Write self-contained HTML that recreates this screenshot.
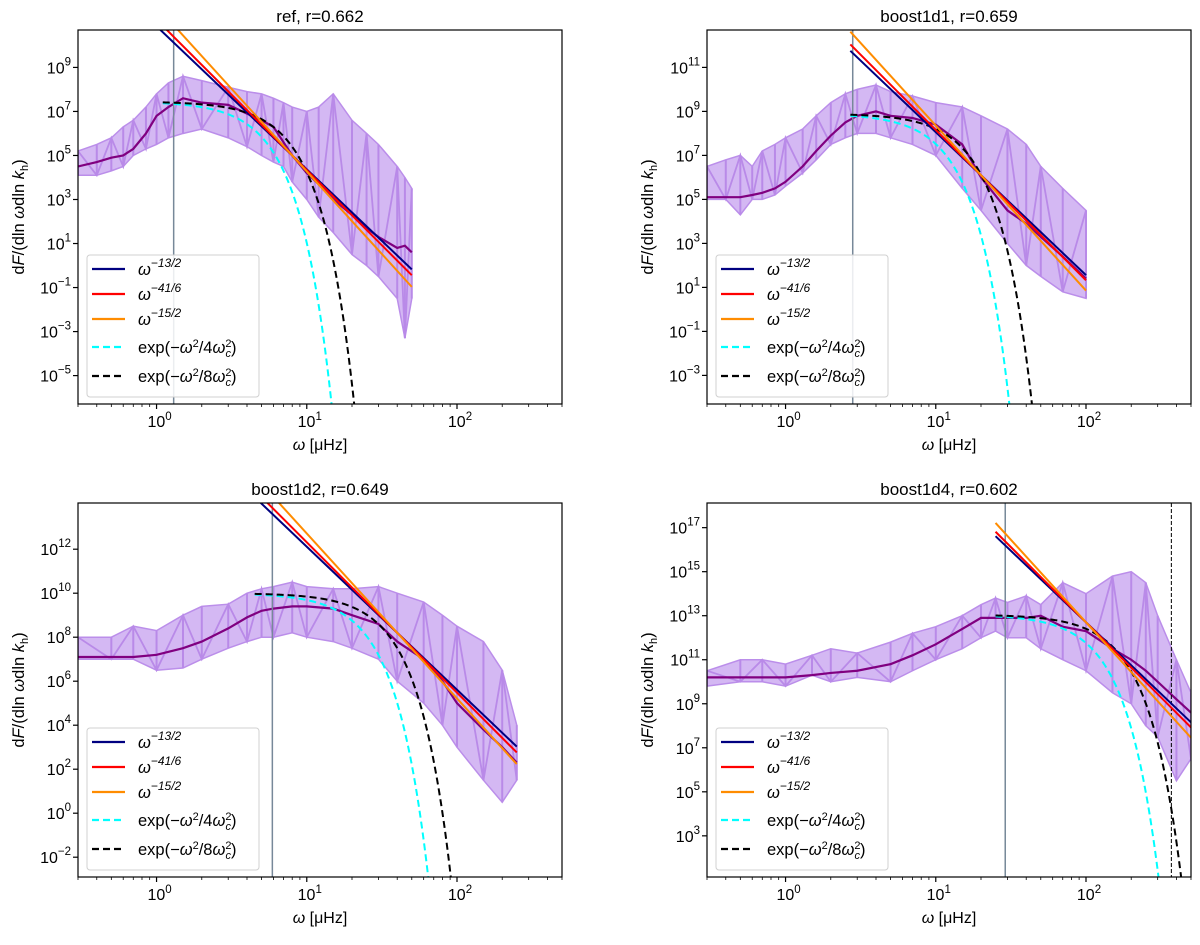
<!DOCTYPE html>
<html><head><meta charset="utf-8"><style>
html,body{margin:0;padding:0;background:#fff;}
svg{display:block;font-family:"Liberation Sans","DejaVu Sans",sans-serif;}
</style></head><body>
<svg id="fig" width="1200" height="945" viewBox="0 0 1200 945" xmlns="http://www.w3.org/2000/svg"></svg>
<script>
// ---- data (log10 values) ----
const titles = ["ref, r=0.662","boost1d1, r=0.659","boost1d2, r=0.649","boost1d4, r=0.602"];
const yLims = [[-6.29,10.70],[-4.3,12.7],[-2.9,14.1],[1.13,18.12]];
const yTickExps = [[-5,-3,-1,1,3,5,7,9],[-3,-1,1,3,5,7,9,11],[-2,0,2,4,6,8,10,12],[3,5,7,9,11,13,15,17]];
const xTickExps = [0,1,2];
const omegaC = [1.3,2.8,5.9,29];
const plateauLog = [7.45,8.9,10.0,13.05];
const plateauStart = [1.1,2.7,4.5,25];
const lawAnchorW = [8,20,40,100];
const lawAnchorLog = [5.0,6.1,8.2,12.7];
const lawStart = [1.0,2.7,4.0,25];
const lawEnd = [50,100,250,500];
const slopes = [6.5,41/6,7.5];

const nodes1 = [0.3,0.4,0.5,0.6,0.7,0.85,1,1.2,1.5,2,3,4,5,6,7,8,10,12,15,20,25,30,40,45,50];
const dark1  = [4.5,4.7,4.9,5.0,5.3,6.0,6.8,7.2,7.6,7.4,7.3,6.9,6.6,6.3,5.6,5.0,4.2,3.7,3.0,2.3,1.7,1.3,0.8,0.9,0.6];
const upper1 = [5.2,5.5,5.8,6.3,6.6,7.2,7.8,8.3,8.6,8.4,8.1,7.9,7.8,7.6,7.4,7.2,7.0,7.2,7.8,6.6,6.0,5.5,4.5,4.0,3.5];
const lower1 = [4.1,4.1,4.3,4.5,5.0,5.3,5.5,5.8,6.0,6.2,5.8,5.4,5.0,4.7,4.5,3.8,3.0,2.2,1.5,0.5,0.0,-0.5,-1.5,-3.3,-1.5];

const nodes2 = [0.3,0.4,0.5,0.6,0.7,0.85,1,1.3,1.6,2,2.5,3,4,5,7,10,15,20,30,40,50,70,100];
const dark2  = [5.1,5.1,5.1,5.2,5.3,5.5,5.8,6.5,7.2,7.9,8.5,8.8,9.0,8.8,8.7,8.4,7.5,6.0,4.5,3.9,3.3,2.4,1.4];
const upper2 = [6.5,6.8,7.0,6.5,7.2,7.5,7.8,8.2,8.8,9.4,9.8,10.0,10.2,9.9,9.7,9.4,9.2,8.8,8.2,7.5,6.5,5.5,4.5];
const lower2 = [5.0,5.0,4.3,5.0,5.0,5.2,5.6,6.2,6.8,7.5,7.8,8.0,8.0,7.8,7.5,7.0,5.5,4.5,3.0,2.0,1.5,0.8,0.5];

const nodes3 = [0.3,0.5,0.7,1,1.5,2,3,4,5,6,8,10,15,20,30,40,60,80,100,150,200,250];
const dark3  = [7.1,7.1,7.1,7.2,7.5,7.8,8.4,8.9,9.2,9.3,9.4,9.4,9.3,9.0,8.6,7.8,7.0,6.0,5.0,3.8,3.0,2.3];
const upper3 = [8.0,8.0,8.5,8.3,9.0,9.4,9.5,10.0,10.2,10.3,10.5,10.3,10.2,10.2,10.3,10.0,9.6,9.0,8.5,7.8,6.5,4.0];
const lower3 = [7.0,7.0,7.0,6.5,6.6,7.0,7.5,7.8,8.0,8.0,8.2,8.0,7.8,7.5,7.0,6.0,5.0,4.0,3.0,1.5,0.5,1.5];

const nodes4 = [0.3,0.5,0.7,1,1.5,2,3,5,7,10,15,20,25,30,40,50,70,100,150,200,250,300,400,500];
const dark4  = [10.2,10.2,10.2,10.2,10.3,10.4,10.5,10.8,11.2,11.7,12.4,12.9,12.9,12.9,12.9,13.0,12.5,12.3,11.5,11.0,10.5,10.0,9.2,8.6];
const upper4 = [10.5,11.0,11.0,10.8,11.2,11.5,11.3,11.8,12.2,12.5,13.0,13.5,13.8,13.6,13.9,13.5,14.5,14.0,14.8,15.0,14.5,13.0,11.0,9.5];
const lower4 = [9.8,10.0,10.0,9.8,10.3,10.0,10.2,10.0,10.5,11.0,11.5,12.0,12.3,12.0,12.0,11.5,11.0,10.5,9.5,9.0,8.0,7.5,5.5,6.5];

const allNodes=[nodes1,nodes2,nodes3,nodes4], allDark=[dark1,dark2,dark3,dark4], allUp=[upper1,upper2,upper3,upper4], allLo=[lower1,lower2,lower3,lower4];

// ---- layout ----
const NS="http://www.w3.org/2000/svg";
const svg=document.getElementById('fig');
const panelPos=[[78,30],[707,30],[78,503],[707,503]];
const W=484,H=374, XMIN=Math.log10(0.3), XMAX=Math.log10(500);
function mk(tag,attrs,parent){const e=document.createElementNS(NS,tag);for(const k in attrs)e.setAttribute(k,attrs[k]);(parent||svg).appendChild(e);return e;}

for(let p=0;p<4;p++){
  const [L,T]=panelPos[p];
  const [y0,y1]=yLims[p];
  const sx=w=>L+(Math.log10(w)-XMIN)/(XMAX-XMIN)*W;
  const sy=lv=>T+H-(lv-y0)/(y1-y0)*H;
  const g=mk('g',{});
  
  
  const cp=mk('clipPath',{id:'c'+p},g);mk('rect',{x:L,y:T,width:W,height:H},cp);
  const pg=mk('g',{'clip-path':'url(#c'+p+')'},g);
  const nd=allNodes[p],up=allUp[p],lo=allLo[p],dk=allDark[p];
  // light band
  let pts=[];
  for(let i=0;i<nd.length;i++)pts.push(sx(nd[i])+','+sy(up[i]));
  for(let i=nd.length-1;i>=0;i--)pts.push(sx(nd[i])+','+sy(lo[i]));
  const band=mk('polygon',{points:pts.join(' '),fill:'#cfb0f2','fill-opacity':0.9,stroke:'#bb8eea','stroke-width':1.5},pg);
  
  
  for(let i=0;i<nd.length;i++){
    const s=mk('line',{x1:sx(nd[i]),x2:sx(nd[i]),y1:sy(lo[i]),y2:sy(up[i]),stroke:'#b98ae8','stroke-width':2},pg);
    
    
  }
  let zz=[];
  for(let i=0;i<nd.length;i++){zz.push(sx(nd[i])+','+sy(i%2?lo[i]:up[i]));}
  const zl=mk('polyline',{points:zz.join(' '),fill:'none',stroke:'#b98ae8','stroke-width':1.8},pg);
  
  
  // dark smoothed
  const dl=mk('polyline',{points:nd.map((w,i)=>sx(w)+','+sy(dk[i])).join(' '),fill:'none',stroke:'#800080','stroke-width':2.2},pg);
  
  
  // vertical omega_c line
  const vl=mk('line',{x1:sx(omegaC[p]),x2:sx(omegaC[p]),y1:T,y2:T+H,stroke:'#778899','stroke-width':1.5},pg);
  
  
  if(p===3){const bl=mk('line',{x1:sx(370),x2:sx(370),y1:T,y2:T+H,stroke:'#000','stroke-width':1,'stroke-dasharray':'4,2'},pg);
    
    }
  // gaussians
  [[4,'#00ffff','cyan-gaussian'],[8,'#000000','black-gaussian']].forEach(([f,c,n])=>{
    let ps=[];const wc=omegaC[p];
    for(let k=0;k<=300;k++){const lw=Math.log10(plateauStart[p])+k*(XMAX-Math.log10(plateauStart[p]))/300;const w=Math.pow(10,lw);
      const lv=plateauLog[p]-(w*w)/(f*wc*wc)/Math.LN10; if(lv<y0-3)break; ps.push(sx(w)+','+sy(lv));}
    const e=mk('polyline',{points:ps.join(' '),fill:'none',stroke:c,'stroke-width':2,'stroke-dasharray':'7,4'},pg);
    
    
  });
  // power laws
  const lc=['#000080','#ff0000','#ff8c00'],ln=['powerlaw-13-2','powerlaw-41-6','powerlaw-15-2'];
  slopes.forEach((s,i)=>{
    const f=w=>lawAnchorLog[p]-s*(Math.log10(w)-Math.log10(lawAnchorW[p]));
    const e=mk('line',{x1:sx(lawStart[p]),y1:sy(f(lawStart[p])),x2:sx(lawEnd[p]),y2:sy(f(lawEnd[p])),stroke:lc[i],'stroke-width':2},pg);
    
    
  });
  // frame
  mk('rect',{x:L,y:T,width:W,height:H,fill:'none',stroke:'#000','stroke-width':1.2},g);
  // x ticks
  for(let d=-1;d<=2;d++){for(let m=1;m<10;m++){const w=m*Math.pow(10,d);if(w<0.3||w>500)continue;const x=sx(w);
    mk('line',{x1:x,x2:x,y1:T+H,y2:T+H+(m===1?5:3),stroke:'#000','stroke-width':m===1?1.2:0.8},g);}}
  xTickExps.forEach(e=>{const t=mk('text',{x:sx(Math.pow(10,e))+3,y:T+H+23,'font-size':16,'text-anchor':'middle'},g);
    
    
    t.innerHTML='10<tspan dy="-7" font-size="11.5">'+e+'</tspan>';});
  yTickExps[p].forEach(e=>{const y=sy(e);mk('line',{x1:L-5,x2:L,y1:y,y2:y,stroke:'#000','stroke-width':1.2},g);
    const t=mk('text',{x:L-7,y:y+6,'font-size':16,'text-anchor':'end'},g);
    
    
    const es=e<0?'\u2212'+(-e):''+e;
    t.innerHTML='10<tspan dy="-8" font-size="11.5">'+es+'</tspan>';
  });
  const tt=mk('text',{x:L+W/2,y:T-8,'font-size':17,'text-anchor':'middle'},g);tt.textContent=titles[p];
  
  
  const xl=mk('text',{x:L+W/2,y:T+H+46,'font-size':16,'text-anchor':'middle'},g);
  
  
  xl.innerHTML='<tspan font-style="italic">ω</tspan> [μHz]';
  const yl=mk('text',{x:0,y:0,'font-size':16.5,'text-anchor':'middle',transform:'translate('+(L-54)+','+(T+H/2)+') rotate(-90)'},g);
  
  
  yl.innerHTML='d<tspan font-style="italic">F</tspan>/(dln <tspan font-style="italic">ω</tspan>dln <tspan font-style="italic">k</tspan><tspan dy="4" font-size="11">h</tspan><tspan dy="-4">)</tspan>';
  // legend
  const lg=mk('g',{},g);
  
  
  const lx=L+9,ly=T+H-149;
  mk('rect',{x:lx,y:ly,width:172,height:142,rx:3,fill:'#fff','fill-opacity':0.85,stroke:'#d0d0d0'},lg);
  const items=[['#000080','','ω<tspan dy="-8" font-size="12">−13/2</tspan>'],['#ff0000','','ω<tspan dy="-8" font-size="12">−41/6</tspan>'],['#ff8c00','','ω<tspan dy="-8" font-size="12">−15/2</tspan>'],
    ['#00ffff','7,4','exp(−<tspan font-style="italic">ω</tspan><tspan dy="-6" font-size="11">2</tspan><tspan dy="6">/4</tspan><tspan font-style="italic">ω</tspan><tspan dy="-6" font-size="11">2</tspan><tspan dx="-6" dy="10" font-size="11" font-style="italic">c</tspan><tspan dy="-4">)</tspan>'],
    ['#000000','7,4','exp(−<tspan font-style="italic">ω</tspan><tspan dy="-6" font-size="11">2</tspan><tspan dy="6">/8</tspan><tspan font-style="italic">ω</tspan><tspan dy="-6" font-size="11">2</tspan><tspan dx="-6" dy="10" font-size="11" font-style="italic">c</tspan><tspan dy="-4">)</tspan>']];
  const iy=[14,39,64,92,121];
  items.forEach((it,i)=>{const y=ly+iy[i];
    const le=mk('g',{},lg);
    
    
    mk('line',{x1:lx+5,x2:lx+38,y1:y,y2:y,stroke:it[0],'stroke-width':2.2,'stroke-dasharray':it[1]||'none'},le);
    const t=mk('text',{x:lx+51,y:y+6,'font-size':16.5,'font-style':i<3?'italic':'normal'},le);t.innerHTML=it[2];});
}
</script>
</body></html>
